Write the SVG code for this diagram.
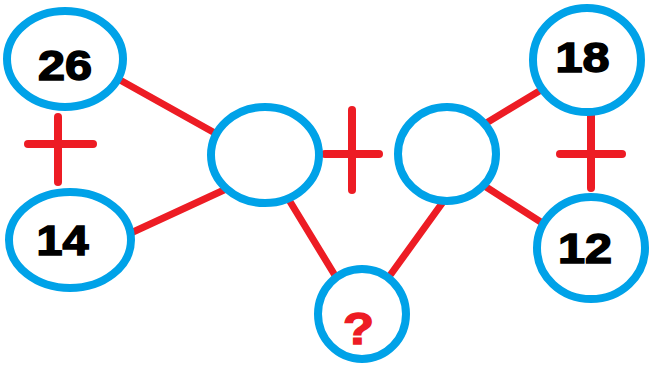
<svg xmlns="http://www.w3.org/2000/svg" width="655" height="367" viewBox="0 0 655 367">
<style>
.n{fill:#fff;stroke:#00A2E8;stroke-width:8}
.c{stroke:#ED1C24;stroke-width:7;stroke-linecap:round;fill:none}
.p{stroke:#ED1C24;stroke-width:8;stroke-linecap:round;fill:none}
.t{font-family:"Liberation Sans",Arial,sans-serif;font-weight:bold;font-size:42px;fill:#000;stroke:#000;stroke-width:1.5;text-anchor:middle}
.q{font-family:"Liberation Sans",Arial,sans-serif;font-weight:bold;font-size:44px;fill:#ED1C24;stroke:#ED1C24;stroke-width:1.5;text-anchor:middle}
</style>
<rect width="655" height="367" fill="#fff"/>
<g id="connectors">
<line class="c" x1="120" y1="80" x2="222" y2="137"/>
<line class="c" x1="133" y1="232" x2="224" y2="190"/>
<line class="c" x1="286" y1="195" x2="339" y2="282"/>
<line class="c" x1="443" y1="202" x2="391" y2="274"/>
<line class="c" x1="541" y1="90" x2="483" y2="125"/>
<line class="c" x1="483" y1="185" x2="547" y2="226"/>
</g>
<g id="plus-left"><line class="p" x1="58" y1="117" x2="58" y2="182"/><line class="p" x1="28" y1="144" x2="93" y2="144"/></g>
<g id="plus-middle"><line class="p" x1="352" y1="110" x2="352" y2="190"/><line class="p" x1="325" y1="154" x2="379" y2="154"/></g>
<g id="plus-right"><line class="p" x1="591" y1="115" x2="591" y2="188"/><line class="p" x1="560" y1="154" x2="622" y2="154"/></g>
<g id="n26"><ellipse class="n" cx="65" cy="59" rx="58" ry="48"/><text class="t" x="65" y="80" textLength="54" lengthAdjust="spacingAndGlyphs">26</text></g>
<g id="n14"><ellipse class="n" cx="70" cy="240" rx="61" ry="48"/><text class="t" x="62.5" y="255" textLength="52" lengthAdjust="spacingAndGlyphs">14</text></g>
<g id="mid-left"><ellipse class="n" cx="265" cy="155" rx="54" ry="48"/></g>
<g id="mid-right"><ellipse class="n" cx="447" cy="154" rx="49" ry="47"/></g>
<g id="n18"><ellipse class="n" cx="587" cy="60" rx="54" ry="52"/><text class="t" x="582.5" y="72" textLength="54" lengthAdjust="spacingAndGlyphs">18</text></g>
<g id="n12"><ellipse class="n" cx="591" cy="248" rx="54" ry="51"/><text class="t" x="585" y="263" textLength="54" lengthAdjust="spacingAndGlyphs">12</text></g>
<g id="nq"><ellipse class="n" cx="362" cy="314" rx="44" ry="45"/><text class="q" x="358.5" y="344" textLength="31" lengthAdjust="spacingAndGlyphs">?</text></g>
</svg>
